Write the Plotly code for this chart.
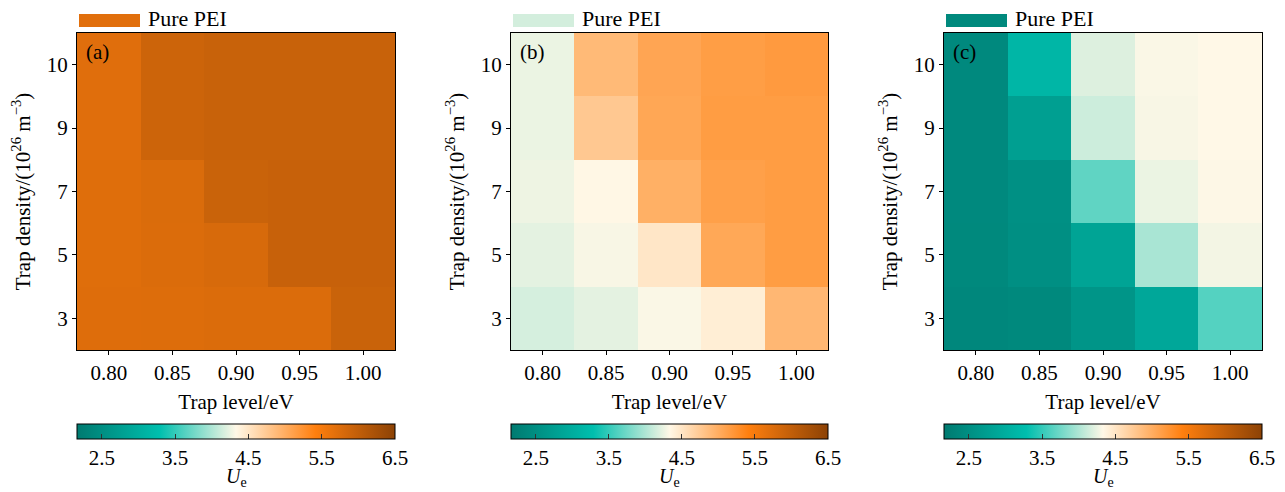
import plotly.graph_objects as go
from plotly.colors import sample_colorscale

# ---------------- data ----------------
trap_level = [0.80, 0.85, 0.90, 0.95, 1.00]
trap_density = ["3", "5", "7", "9", "10"]  # bottom -> top

# rows ordered bottom (3) -> top (10)
ue_a = [
    [5.73, 5.74, 5.75, 5.75, 5.92],
    [5.72, 5.75, 5.79, 5.94, 5.94],
    [5.72, 5.76, 5.92, 5.94, 5.94],
    [5.71, 5.90, 5.93, 5.93, 5.93],
    [5.71, 5.90, 5.93, 5.93, 5.93],
]
ue_b = [
    [4.16, 4.22, 4.31, 4.42, 4.91],
    [4.22, 4.30, 4.49, 5.05, 5.15],
    [4.26, 4.34, 4.98, 5.12, 5.15],
    [4.25, 4.76, 5.06, 5.15, 5.15],
    [4.25, 4.89, 5.07, 5.14, 5.17],
]
ue_c = [
    [2.37, 2.40, 2.60, 2.90, 3.63],
    [2.40, 2.50, 2.84, 3.98, 4.28],
    [2.41, 2.52, 3.68, 4.25, 4.32],
    [2.41, 2.76, 4.12, 4.30, 4.33],
    [2.41, 3.14, 4.19, 4.31, 4.33],
]
pure_pei = [5.70, 4.15, 2.40]
panel_labels = ["(a)", "(b)", "(c)"]
cbar_ticks = [2.5, 3.5, 4.5, 5.5, 6.5]

CMIN, CMAX = 2.16, 6.5
colorscale = [
    [0.0, "rgb(0,122,112)"],
    [0.26, "rgb(0,191,174)"],
    [0.5, "rgb(255,248,231)"],
    [0.75, "rgb(255,127,14)"],
    [1.0, "rgb(140,66,5)"],
]

# ---------------- layout geometry ----------------
W, H = 1285, 492
FONT = "Liberation Serif"
FS = 21
px_x = [(77, 395), (511, 828), (944, 1262)]
y_top, y_bot = 33, 350

fig = go.Figure()
datasets = [ue_a, ue_b, ue_c]
for i, z in enumerate(datasets):
    sfx = "" if i == 0 else str(i + 1)
    x0, x1 = px_x[i]
    dom_x = [x0 / W, x1 / W]
    dom_y = [(H - y_bot) / H, (H - y_top) / H]
    fig.add_trace(go.Heatmap(
        x=trap_level, y=trap_density, z=z,
        coloraxis="coloraxis" + sfx,
        xaxis="x" + sfx, yaxis="y" + sfx,
        hoverinfo="skip",
    ))
    axis_common = dict(
        showline=True, mirror=True, linecolor="black", linewidth=1,
        ticks="outside", ticklen=4, tickcolor="black", tickwidth=1,
        showgrid=False, zeroline=False,
        tickfont=dict(family=FONT, size=FS, color="black"),
    )
    fig.update_layout({
        "xaxis" + sfx: dict(
            domain=dom_x, anchor="y" + sfx,
            tickvals=trap_level, tickformat=".2f",
            range=[0.775, 1.025],
            title=dict(text="Trap level/eV", font=dict(family=FONT, size=FS, color="black"), standoff=10),
            **axis_common,
        ),
        "yaxis" + sfx: dict(
            domain=dom_y, anchor="x" + sfx, type="category",
            categoryorder="array", categoryarray=trap_density,
            title=dict(text="Trap density/(10<sup>26</sup> m<sup>\u22123</sup>)",
                       font=dict(family=FONT, size=FS, color="black"), standoff=10),
            **axis_common,
        ),
        "coloraxis" + sfx: dict(
            colorscale=colorscale, cmin=CMIN, cmax=CMAX,
            colorbar=dict(
                orientation="h", x=(x0 + x1) / 2 / W, xanchor="center",
                y=(H - 424) / H, yanchor="top",
                lenmode="pixels", len=x1 - x0, thickness=15,
                xpad=0, ypad=0,
                outlinecolor="black", outlinewidth=1,
                tickvals=cbar_ticks, ticktext=[f"{t:.1f}" for t in cbar_ticks],
                ticks="inside", ticklen=5, tickcolor="#333",
                tickfont=dict(family=FONT, size=FS, color="black"),
            ),
        ),
    })
    # colorbar title
    fig.add_annotation(
        xref="paper", yref="paper",
        x=(x0 + x1) / 2 / W, y=(H - 477) / H, xanchor="center", yanchor="middle",
        text="<i>U</i><sub>e</sub>", showarrow=False,
        font=dict(family=FONT, size=20, color="black"),
    )
    # panel label
    fig.add_annotation(
        xref="x" + sfx + " domain", yref="y" + sfx + " domain",
        x=0.022, y=0.985, xanchor="left", yanchor="top",
        text=panel_labels[i], showarrow=False,
        font=dict(family=FONT, size=FS, color="black"),
    )
    # "Pure PEI" legend swatch (colour from the colormap)
    frac = (pure_pei[i] - CMIN) / (CMAX - CMIN)
    sw_col = sample_colorscale(colorscale, [frac])[0]
    fig.add_shape(
        type="rect", xref="paper", yref="paper",
        x0=(x0 + 2) / W, x1=(x0 + 63) / W,
        y0=(H - 27) / H, y1=(H - 14) / H,
        fillcolor=sw_col, line=dict(width=0),
    )
    fig.add_annotation(
        xref="paper", yref="paper",
        x=(x0 + 69) / W, y=(H - 19) / H, xanchor="left", yanchor="middle",
        text="Pure PEI", showarrow=False,
        font=dict(family=FONT, size=22, color="black"),
    )

fig.update_layout(
    width=W, height=H,
    margin=dict(l=0, r=0, t=0, b=0),
    paper_bgcolor="white", plot_bgcolor="white",
    showlegend=False,
    font=dict(family=FONT, color="black"),
)

fig.write_html("out.html")
